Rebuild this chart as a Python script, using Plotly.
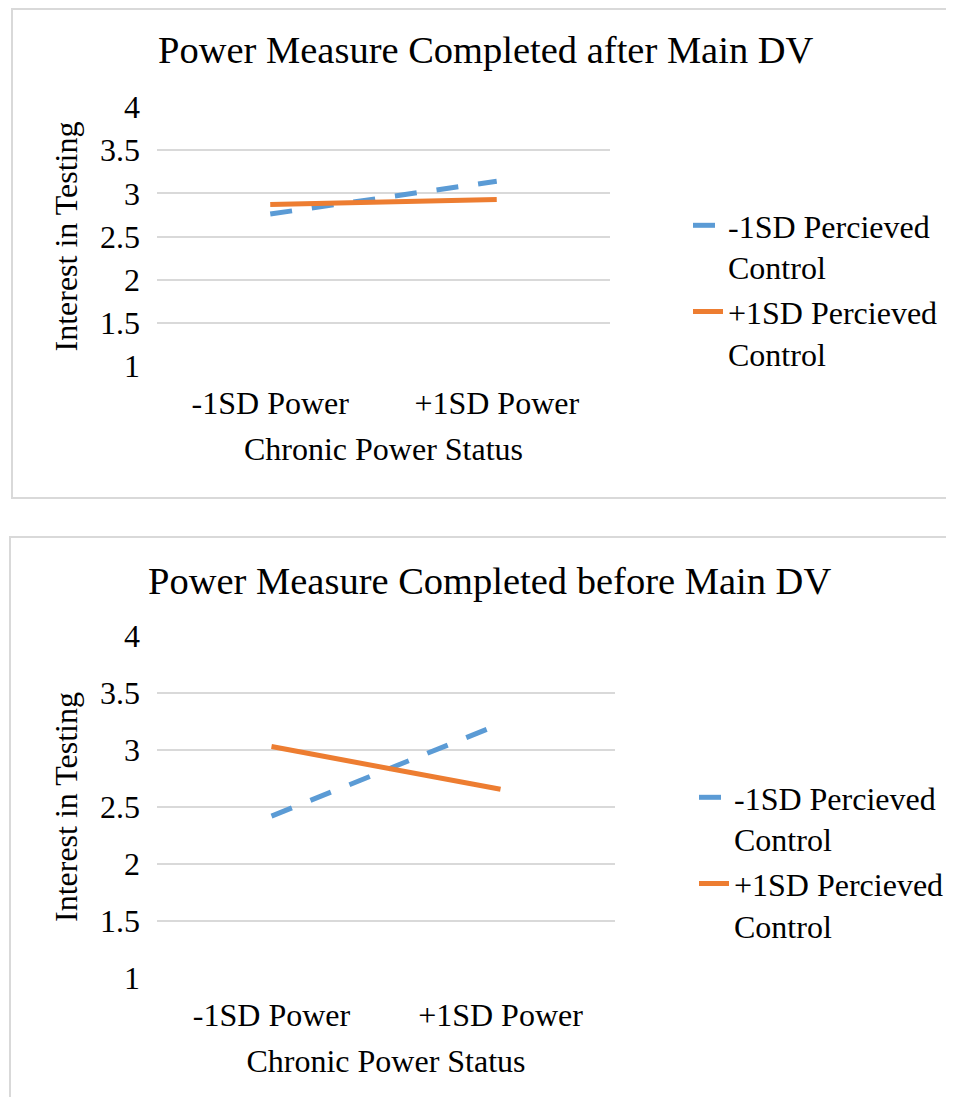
import plotly.graph_objects as go

# Page has an 8px body margin; keep the figure inside the 954x1105 window.
OFF = 8
W, H = 954 - 2 * OFF, 1105 - 2 * OFF

categories = ["-1SD Power", "+1SD Power"]
series_names = ["-1SD Percieved<br>Control", "+1SD Percieved<br>Control"]

after_low_control = [2.76, 3.14]
after_high_control = [2.87, 2.93]

before_low_control = [2.42, 3.23]
before_high_control = [3.03, 2.655]

titles = ["Power Measure Completed after Main DV", "Power Measure Completed before Main DV"]
y_ticks = [1, 1.5, 2, 2.5, 3, 3.5, 4]
y_tick_labels = ["1", "1.5", "2", "2.5", "3", "3.5", "4"]
x_title = "Chronic Power Status"
y_title = "Interest in Testing"

BLUE = "#5B9BD5"
ORANGE = "#ED7D31"
FONT = "Liberation Serif, Times New Roman, serif"
GRID = "#D9D9D9"


def px_x(p):
    return (p - OFF) / W


def px_y(p):
    return 1 - (p - OFF) / H


fig = go.Figure()

# Top chart
fig.add_trace(go.Scatter(x=categories, y=after_low_control, mode="lines", name=series_names[0],
                         line=dict(color=BLUE, width=5, dash="22px,20px"),
                         xaxis="x", yaxis="y", legend="legend"))
fig.add_trace(go.Scatter(x=categories, y=after_high_control, mode="lines", name=series_names[1],
                         line=dict(color=ORANGE, width=5),
                         xaxis="x", yaxis="y", legend="legend"))
# Bottom chart
fig.add_trace(go.Scatter(x=categories, y=before_low_control, mode="lines", name=series_names[0],
                         line=dict(color=BLUE, width=5, dash="22px,20px"),
                         xaxis="x2", yaxis="y2", legend="legend2"))
fig.add_trace(go.Scatter(x=categories, y=before_high_control, mode="lines", name=series_names[1],
                         line=dict(color=ORANGE, width=5),
                         xaxis="x2", yaxis="y2", legend="legend2"))

axis_font = dict(family=FONT, size=32, color="#000000")


def xaxis(domain, anchor):
    return dict(domain=domain, anchor=anchor, type="category", range=[-0.5, 1.5],
                showgrid=False, zeroline=False, showline=False, ticks="",
                tickfont=axis_font, ticklabelstandoff=15, automargin=False,
                title=dict(text=x_title, font=axis_font, standoff=17),
                fixedrange=True)


def yaxis(domain, anchor):
    return dict(domain=domain, anchor=anchor, range=[1, 4],
                tickvals=y_ticks, ticktext=y_tick_labels,
                showgrid=True, gridcolor=GRID, gridwidth=1.5,
                zeroline=False, showline=False, ticks="",
                tickfont=axis_font, ticklabelstandoff=16, automargin=False,
                title=dict(text=y_title, font=axis_font, standoff=12),
                fixedrange=True)


legend_font = dict(family=FONT, size=32, color="#000000")

fig.update_layout(
    template="none",
    width=W, height=H,
    autosize=False,
    margin=dict(l=0, r=0, t=0, b=0, pad=0, autoexpand=False),
    paper_bgcolor="white", plot_bgcolor="white",
    font=dict(family=FONT, color="#000000"),
    xaxis=xaxis([px_x(157), px_x(610)], "y"),
    yaxis=yaxis([px_y(366), px_y(107)], "x"),
    xaxis2=xaxis([px_x(157), px_x(615)], "y2"),
    yaxis2=yaxis([px_y(978), px_y(636)], "x2"),
    legend=dict(x=px_x(688), y=px_y(198), xanchor="left", yanchor="top",
                font=legend_font, valign="top", bgcolor="rgba(0,0,0,0)",
                tracegroupgap=8),
    legend2=dict(x=px_x(694), y=px_y(770), xanchor="left", yanchor="top",
                 font=legend_font, valign="top", bgcolor="rgba(0,0,0,0)",
                 tracegroupgap=8),
    showlegend=True,
    shapes=[
        dict(type="rect", xref="paper", yref="paper",
             x0=px_x(12), x1=px_x(980), y0=px_y(498), y1=px_y(9),
             line=dict(color=GRID, width=2), fillcolor="rgba(0,0,0,0)", layer="below"),
        dict(type="rect", xref="paper", yref="paper",
             x0=px_x(10), x1=px_x(980), y0=px_y(1130), y1=px_y(537),
             line=dict(color=GRID, width=2), fillcolor="rgba(0,0,0,0)", layer="below"),
    ],
    annotations=[
        dict(text=titles[0], x=px_x(486), y=px_y(50), xref="paper", yref="paper",
             xanchor="center", yanchor="middle", showarrow=False,
             font=dict(family=FONT, size=38.5, color="#000000")),
        dict(text=titles[1], x=px_x(489), y=px_y(581), xref="paper", yref="paper",
             xanchor="center", yanchor="middle", showarrow=False,
             font=dict(family=FONT, size=38.5, color="#000000")),
    ],
)

fig.write_html("out.html")
